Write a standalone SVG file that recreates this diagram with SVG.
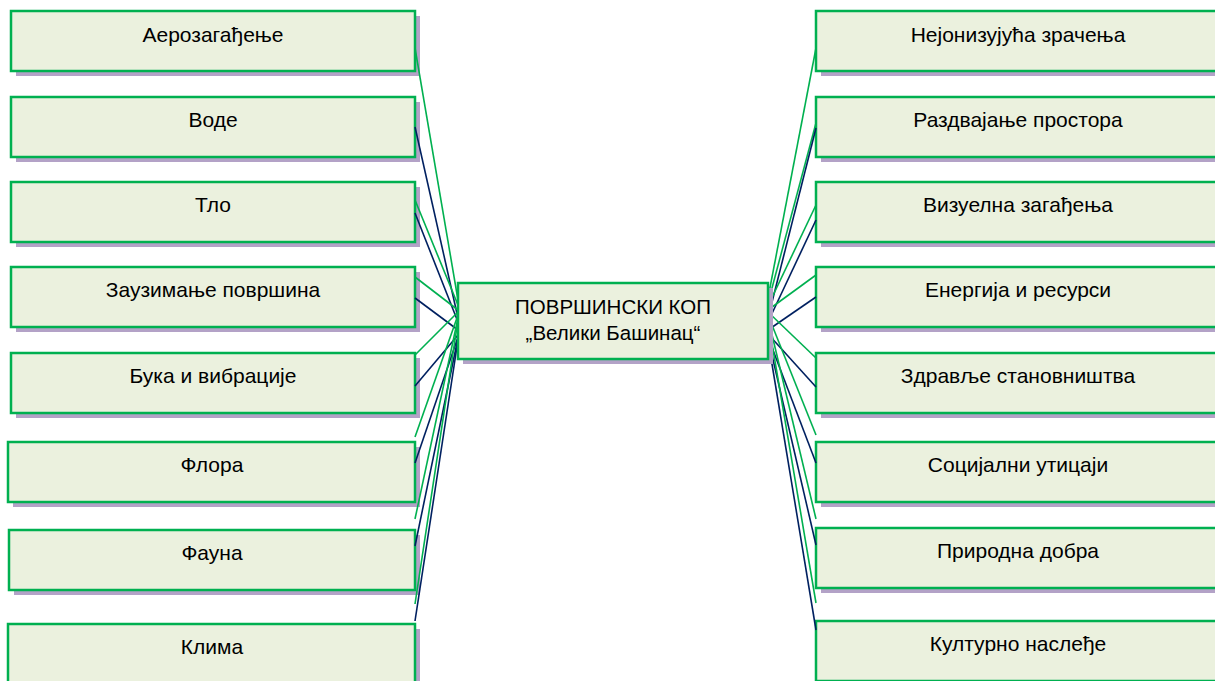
<svg xmlns="http://www.w3.org/2000/svg" width="1215" height="681" viewBox="0 0 1215 681">
<style>
.sh{fill:#B3A2C7}
.bx{fill:#EBF1DE;stroke:#00B050;stroke-width:2.5}
.t{font-family:"Liberation Sans",Arial,sans-serif;font-size:21px;fill:#000;text-anchor:middle}
.g{stroke:#00B050;stroke-width:1.6;fill:none}
.n{stroke:#002060;stroke-width:1.6;fill:none}
</style>
<rect width="1215" height="681" fill="#fff"/>
<g id="nodes-left">
<g id="n-aero"><rect class="sh" x="16" y="16" width="404" height="60"/><rect class="bx" x="11" y="11" width="404" height="60"/><text class="t" x="213" y="42">Аерозагађење</text></g>
<g id="n-vode"><rect class="sh" x="16" y="102" width="404" height="60"/><rect class="bx" x="11" y="97" width="404" height="60"/><text class="t" x="213" y="127">Воде</text></g>
<g id="n-tlo"><rect class="sh" x="16" y="187" width="404" height="60"/><rect class="bx" x="11" y="182" width="404" height="60"/><text class="t" x="213" y="212">Тло</text></g>
<g id="n-zauz"><rect class="sh" x="16" y="272" width="404" height="60"/><rect class="bx" x="11" y="267" width="404" height="60"/><text class="t" x="213" y="297">Заузимање површина</text></g>
<g id="n-buka"><rect class="sh" x="16" y="358" width="404" height="60"/><rect class="bx" x="11" y="353" width="404" height="60"/><text class="t" x="213" y="383">Бука и вибрације</text></g>
<g id="n-flora"><rect class="sh" x="13" y="447" width="407" height="60"/><rect class="bx" x="8" y="442" width="407" height="60"/><text class="t" x="212" y="472">Флора</text></g>
<g id="n-fauna"><rect class="sh" x="14" y="535" width="406" height="60"/><rect class="bx" x="9" y="530" width="406" height="60"/><text class="t" x="212" y="560">Фауна</text></g>
<g id="n-klima"><rect class="sh" x="13" y="629" width="407" height="60"/><rect class="bx" x="8" y="624" width="407" height="60"/><text class="t" x="212" y="654">Клима</text></g>
</g>
<g id="nodes-right">
<g id="n-nejon"><rect class="sh" x="821" y="16" width="404" height="60"/><rect class="bx" x="816" y="11" width="404" height="60"/><text class="t" x="1018" y="42">Нејонизујућа зрачења</text></g>
<g id="n-razd"><rect class="sh" x="821" y="102" width="404" height="60"/><rect class="bx" x="816" y="97" width="404" height="60"/><text class="t" x="1018" y="127">Раздвајање простора</text></g>
<g id="n-viz"><rect class="sh" x="821" y="187" width="404" height="60"/><rect class="bx" x="816" y="182" width="404" height="60"/><text class="t" x="1018" y="212">Визуелна загађења</text></g>
<g id="n-energ"><rect class="sh" x="821" y="272" width="404" height="60"/><rect class="bx" x="816" y="267" width="404" height="60"/><text class="t" x="1018" y="297">Енергија и ресурси</text></g>
<g id="n-zdrav"><rect class="sh" x="821" y="358" width="404" height="60"/><rect class="bx" x="816" y="353" width="404" height="60"/><text class="t" x="1018" y="383">Здравље становништва</text></g>
<g id="n-soc"><rect class="sh" x="821" y="447" width="404" height="60"/><rect class="bx" x="816" y="442" width="404" height="60"/><text class="t" x="1018" y="472">Социјални утицаји</text></g>
<g id="n-prir"><rect class="sh" x="821" y="533" width="404" height="60"/><rect class="bx" x="816" y="528" width="404" height="60"/><text class="t" x="1018" y="558">Природна добра</text></g>
<g id="n-kult"><rect class="sh" x="821" y="626" width="404" height="60"/><rect class="bx" x="816" y="621" width="404" height="60"/><text class="t" x="1018" y="651">Културно наслеђе</text></g>
</g>
<g id="connectors">
<line class="g" x1="415" y1="48" x2="458" y2="300"/>
<line class="n" x1="415" y1="127" x2="458" y2="318"/>
<line class="g" x1="415" y1="200" x2="458" y2="305"/>
<line class="n" x1="415" y1="213" x2="458" y2="322"/>
<line class="g" x1="415" y1="277" x2="458" y2="310"/>
<line class="n" x1="415" y1="298" x2="458" y2="330"/>
<line class="g" x1="415" y1="355" x2="458" y2="312"/>
<line class="n" x1="415" y1="386" x2="458" y2="335"/>
<line class="g" x1="415" y1="437" x2="458" y2="315"/>
<line class="n" x1="415" y1="463" x2="458" y2="337"/>
<line class="g" x1="415" y1="519" x2="458" y2="318"/>
<line class="n" x1="415" y1="546" x2="458" y2="338"/>
<line class="g" x1="415" y1="604" x2="458" y2="320"/>
<line class="n" x1="415" y1="621" x2="458" y2="340"/>
<line class="g" x1="816" y1="48" x2="768" y2="298"/>
<line class="g" x1="816" y1="123" x2="768" y2="303"/>
<line class="n" x1="816" y1="128" x2="768" y2="318"/>
<line class="g" x1="816" y1="205" x2="768" y2="306"/>
<line class="n" x1="816" y1="220" x2="768" y2="322"/>
<line class="g" x1="816" y1="275" x2="768" y2="310"/>
<line class="n" x1="816" y1="297" x2="768" y2="330"/>
<line class="g" x1="816" y1="358" x2="768" y2="312"/>
<line class="n" x1="816" y1="387" x2="768" y2="334"/>
<line class="g" x1="816" y1="435" x2="768" y2="315"/>
<line class="n" x1="816" y1="463" x2="768" y2="337"/>
<line class="g" x1="816" y1="519" x2="768" y2="318"/>
<line class="n" x1="816" y1="545" x2="768" y2="338"/>
<line class="g" x1="816" y1="603" x2="768" y2="320"/>
<line class="n" x1="816" y1="630" x2="768" y2="340"/>
</g>
<g id="n-center"><rect class="sh" x="463" y="288" width="310" height="76"/><rect class="bx" x="458" y="283" width="310" height="76"/><text class="t" x="613" y="314" style="font-size:20.5px">ПОВРШИНСКИ КОП</text><text class="t" x="613" y="340" style="font-size:20.5px">„Велики Башинац“</text></g>
</svg>
